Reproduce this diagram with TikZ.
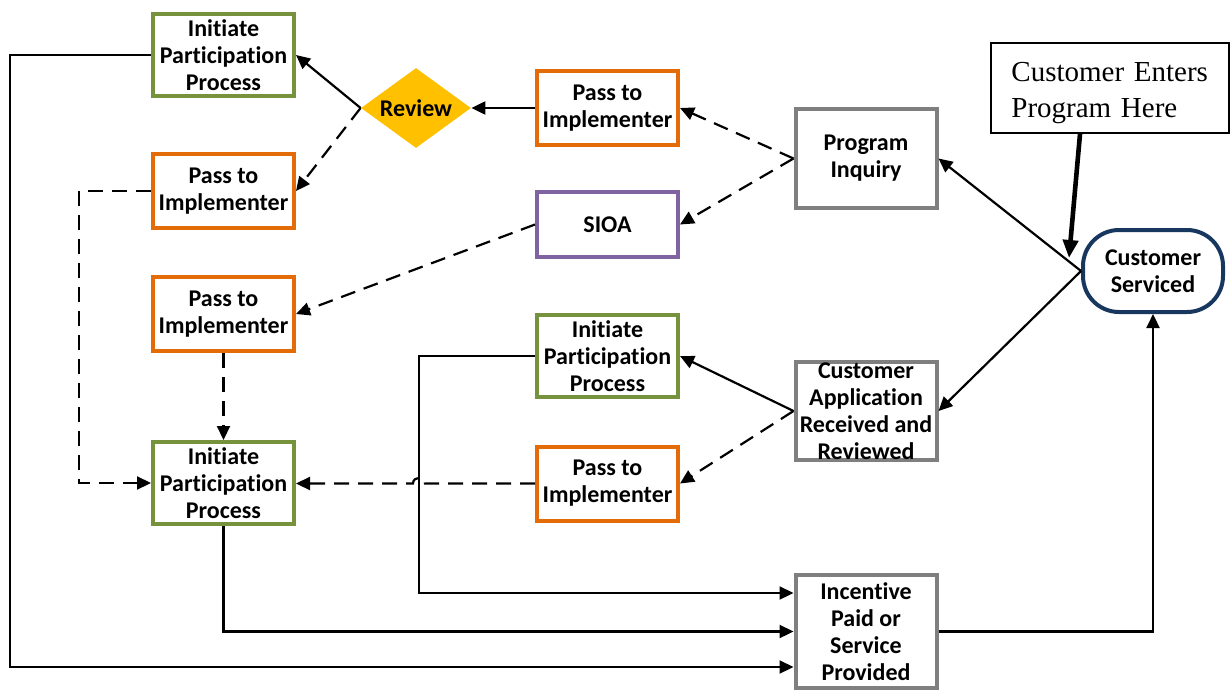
\documentclass[tikz,border=0pt]{standalone}
\usepackage{fontspec}
\setmainfont[Ligatures=NoCommon]{Carlito}
\newfontfamily\serifbox{Liberation Serif}
\usetikzlibrary{arrows.meta,shapes.geometric}
\definecolor{cgreen}{RGB}{118,146,60}
\definecolor{corange}{RGB}{227,108,9}
\definecolor{cpurple}{RGB}{128,100,162}
\definecolor{cgray}{RGB}{127,127,127}
\definecolor{cnavy}{RGB}{23,55,94}
\definecolor{cgold}{RGB}{255,192,0}
\tikzset{
  box/.style={draw, line width=2pt, fill=white, align=center, inner sep=0pt,
    font=\bfseries\fontsize{12}{13.5}\selectfont, minimum width=70.5pt},
  gbox/.style={box, draw=cgreen, minimum height=41pt},
  obox/.style={box, draw=corange, minimum height=37pt},
  pbox/.style={box, draw=cpurple, minimum height=32.5pt},
  graybox/.style={box, draw=cgray},
  conn/.style={line width=1.1pt, -{Triangle[length=7pt,width=6.5pt]}},
  dconn/.style={conn, dash pattern=on 7.5pt off 4.5pt},
}
\begin{document}
\begin{tikzpicture}[x=0.5pt,y=-0.5pt]
\useasboundingbox (0,0) rectangle (1230,690);
\clip (0,0) rectangle (1230,690);
% nodes
\node[gbox] (ipp1) at (223.5,55) {Initiate\\Participation\\Process};
\node[diamond, aspect=1.4, fill=cgold, inner sep=0pt, minimum width=55pt, minimum height=40pt,
  font=\bfseries\fontsize{12}{13.5}\selectfont] (rev) at (416,108) {Review};
\node[obox] (ppA) at (607.5,108) {Pass to\\Implementer};
\node[graybox, minimum height=49.5pt] (pinq) at (866,158.5) {Program\\Inquiry};
\node[obox] (ppB) at (223.5,191) {Pass to\\Implementer};
\node[pbox] (sioa) at (607.5,224.5) {SIOA};
\node[box, draw=cnavy, rounded corners=18pt, minimum width=70pt, minimum height=41pt]
  (cs) at (1153,271) {Customer\\Serviced};
\node[obox] (ppC) at (223.5,314) {Pass to\\Implementer};
\node[gbox] (ipp2) at (607.5,356) {Initiate\\Participation\\Process};
\node[graybox, minimum height=49pt] (carr) at (866,411) {Customer\\Application\\Received and\\Reviewed};
\node[obox] (ppD) at (607.5,483.5) {Pass to\\Implementer};
\node[gbox] (ipp3) at (223.5,483) {Initiate\\Participation\\Process};
\node[graybox, minimum height=56.5pt] (inc) at (866,631.5) {Incentive\\Paid or\\Service\\Provided};
\node[draw, line width=1pt, fill=white, minimum width=119pt, minimum height=45pt] (enter) at (1110,88) {};
\node[inner sep=0pt, text width=100pt, align=left,
  font=\serifbox\fontsize{14.5}{18}\selectfont, anchor=west] (entertext) at (1011,93)
  {Customer Enters\\Program Here};
\coordinate (entertip) at (1069,258);
% connectors
\draw[conn] (ipp1.west) -- (10,55) -- (10,667) -- (inc.west |- 0,667);
\draw[conn] (rev.west) -- (ipp1.east);
\draw[dconn] (rev.west) -- (ppB.east);
\draw[conn] (ppA.west) -- (rev.east);
\draw[dconn] (pinq.west) -- (ppA.east);
\draw[dconn] (pinq.west) -- (sioa.east);
\draw[dconn] (sioa.west) -- (ppC.east);
\draw[dconn] (ppB.west) -- (79,191) -- (79,483) -- (ipp3.west);
\draw[dconn] (ppC.south) -- (ipp3.north);
\draw[conn] (ipp2.west) -- (419,356) -- (419,593) -- (inc.west |- 0,593);
\draw[dconn] (ppD.west) -- (425,483.5) .. controls (425,476) and (413,476) .. (413,483.5) -- (ipp3.east |- 0,483.5);
\draw[conn] (carr.west) -- (ipp2.east);
\draw[dconn] (carr.west) -- (ppD.east);
\draw[conn] (cs.west) -- (pinq.east);
\draw[conn] (cs.west) -- (carr.east);
\draw[conn] (ipp3.south) |- (inc.west);
\draw[conn] (inc.east) -| (cs.south);
\draw[line width=2.3pt, -{Triangle[length=9pt,width=7.5pt]}] ([xshift=-15pt]enter.south) -- (entertip);
\end{tikzpicture}
\end{document}
